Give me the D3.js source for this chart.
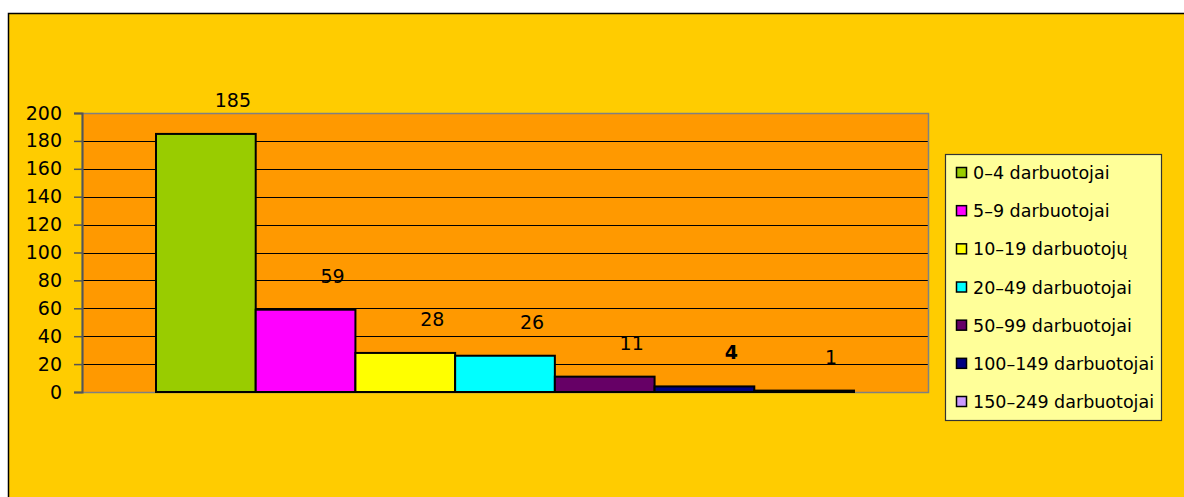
<!DOCTYPE html>
<html>
<head>
<meta charset="utf-8">
<script src="https://cdn.jsdelivr.net/npm/d3@7"></script>
<style>
  body { margin: 0; background: #fff; }
  svg { display: block; }
  text { font-family: "DejaVu Sans", sans-serif; fill: #000; }
</style>
</head>
<body>
<script>
// data
let categories = ["0\u20134 darbuotojai", "5\u20139 darbuotojai", "10\u201319 darbuotojų", "20\u201349 darbuotojai",
                  "50\u201399 darbuotojai", "100\u2013149 darbuotojai", "150\u2013249 darbuotojai"];
let values = [185, 59, 28, 26, 11, 4, 1];
let colors = ["#99cc00", "#ff00ff", "#ffff00", "#00ffff", "#660066", "#000080", "#cc99ff"];
let yTicks = [0, 20, 40, 60, 80, 100, 120, 140, 160, 180, 200];

let w = 1184, h = 497;
let plot = {left: 82, right: 928, top: 113, bottom: 392};

let svg = d3.select("body").append("svg").attr("width", w).attr("height", h);

// chart background
svg.append("rect").attr("x", 8.5).attr("y", 13.5).attr("width", w).attr("height", h)
   .attr("fill", "#ffcc00").attr("stroke", "#000").attr("stroke-width", 1.5);

let y = d3.scaleLinear().domain([0, 200]).range([plot.bottom, plot.top]);
let x = d3.scaleBand().domain(d3.range(values.length))
          .range([156, 854]).padding(0);

let chartGroup = svg.append("g");

chartGroup.append("rect").attr("x", plot.left).attr("y", plot.top)
   .attr("width", plot.right - plot.left).attr("height", plot.bottom - plot.top)
   .attr("fill", "#ff9900");

// gridlines
chartGroup.selectAll("line.grid")
   .data(yTicks.filter(d => d > 0 && d < 200))
   .enter().append("line")
   .attr("class", "grid")
   .attr("x1", plot.left).attr("x2", plot.right)
   .attr("y1", d => Math.round(y(d)) + 0.5).attr("y2", d => Math.round(y(d)) + 0.5)
   .attr("stroke", "#000").attr("stroke-width", 1);

// plot border (gray)
chartGroup.append("rect").attr("x", plot.left + 0.5).attr("y", plot.top + 0.5)
   .attr("width", plot.right - plot.left).attr("height", plot.bottom - plot.top)
   .attr("fill", "none").attr("stroke", "#808080").attr("stroke-width", 1.5);

// bars
chartGroup.selectAll("rect.bar")
   .data(values)
   .enter().append("rect")
   .attr("class", "bar")
   .attr("x", (d, i) => x(i))
   .attr("y", d => y(d))
   .attr("width", x.bandwidth())
   .attr("height", d => y(0) - y(d))
   .attr("fill", (d, i) => colors[i])
   .attr("stroke", "#000").attr("stroke-width", 2);

// value labels
chartGroup.selectAll("text.lbl")
   .data(values)
   .enter().append("text")
   .attr("class", "lbl")
   .attr("x", (d, i) => x(i) + x.bandwidth() / 2 + 27)
   .attr("y", d => y(d) - 27)
   .attr("text-anchor", "middle")
   .style("font-size", "19px")
   .style("font-weight", d => d === 4 ? "bold" : "normal")
   .text(d => d);

// y axis
let yAxis = d3.axisLeft(y).tickValues(yTicks).tickSize(8).tickPadding(12);
let ax = chartGroup.append("g").attr("transform", "translate(" + plot.left + ",0)").call(yAxis);
ax.select(".domain").attr("stroke", "#555").attr("stroke-width", 2);
ax.selectAll(".tick line").attr("stroke", "#555").attr("stroke-width", 1.5);
ax.selectAll(".tick text").style("font-size", "19px").style("font-family", "DejaVu Sans").attr("fill", "#000");

// legend
let lg = svg.append("g");
lg.append("rect").attr("x", 945.5).attr("y", 154.5).attr("width", 216).attr("height", 266)
  .attr("fill", "#ffff99").attr("stroke", "#333").attr("stroke-width", 1.2);

let ly = d3.scalePoint().domain(d3.range(categories.length)).range([173, 402]);
let item = lg.selectAll("g.item").data(categories).enter().append("g").attr("class", "item")
   .attr("transform", (d, i) => "translate(956," + ly(i) + ")");
item.append("rect").attr("x", 0.5).attr("y", -5.5).attr("width", 10).attr("height", 10)
   .attr("fill", (d, i) => colors[i]).attr("stroke", "#000").attr("stroke-width", 1.5);
item.append("text").attr("x", 17).attr("y", 6)
   .style("font-size", "17.5px").text(d => d);
</script>
</body>
</html>
